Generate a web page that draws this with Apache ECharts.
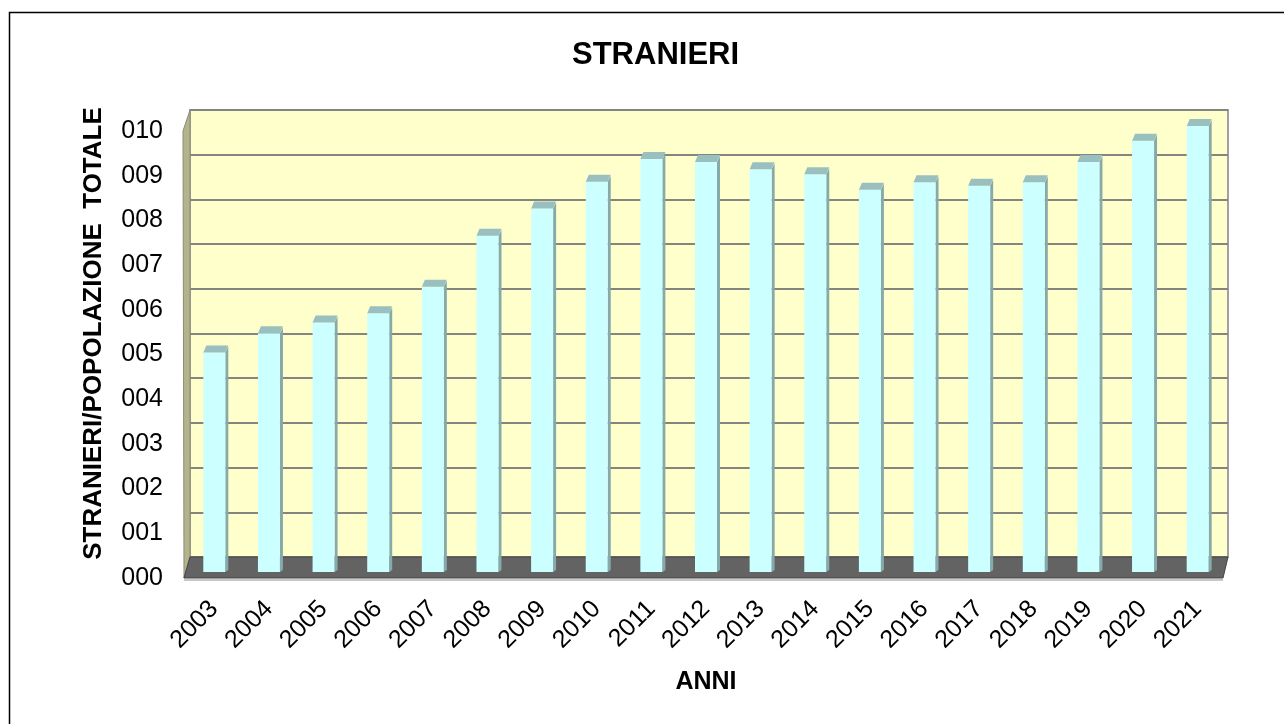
<!DOCTYPE html>
<html>
<head>
<meta charset="utf-8">
<title>STRANIERI</title>
<script src="https://cdn.jsdelivr.net/npm/echarts@6/dist/echarts.min.js"></script>
<style>
  html, body { margin: 0; padding: 0; background: #fff; }
  #chart { width: 1284px; height: 724px; }
</style>
</head>
<body>
<div id="chart"></div>
<script>
// anni e rapporto stranieri / popolazione totale
const years = ['2003', '2004', '2005', '2006', '2007', '2008', '2009', '2010', '2011', '2012',
  '2013', '2014', '2015', '2016', '2017', '2018', '2019', '2020', '2021']
const ratio = [4.91, 5.34, 5.58, 5.79, 6.38, 7.52, 8.13, 8.73, 9.24, 9.17,
  9.01, 8.90, 8.55, 8.72, 8.64, 8.72, 9.17, 9.65, 9.98]
const yTicks = ['000', '001', '002', '003', '004', '005', '006', '007', '008', '009', '010']

const FONT = '"Liberation Sans", Arial, sans-serif'

const chart = echarts.init(document.getElementById('chart'))

/**
 * barra pseudo 3D: faccia, lato e tappo
 */
const renderBar = (params, api) => {
  const top = api.coord([api.value(0), api.value(1)])
  const base = api.coord([api.value(0), 0])
  const w = 22
  const x = top[0] - w / 2
  const yt = top[1]
  const yb = base[1]
  return {
    type: 'group',
    children: [
      {
        type: 'polygon',
        shape: { points: [[x + w, yt], [x + w + 3, yt - 6], [x + w + 3, yb - 2], [x + w, yb]] },
        style: { fill: '#86AAAA' }
      },
      {
        type: 'rect',
        shape: { x: x, y: yt, width: w, height: yb - yt },
        style: { fill: '#CCFFFF' }
      },
      {
        type: 'polygon',
        shape: { points: [[x, yt], [x + w, yt], [x + w + 3, yt - 7], [x + 3, yt - 7]] },
        style: { fill: '#99BFBF' }
      }
    ]
  }
}

const option = {
  animation: false,
  backgroundColor: '#ffffff',
  title: {
    text: 'STRANIERI',
    left: 567,
    top: 35,
    textStyle: { fontFamily: FONT, fontSize: 31, fontWeight: 'bold', color: '#000' }
  },
  graphic: [
    {
      type: 'rect',
      z: 10,
      shape: { x: 9.5, y: 12.5, width: 1320, height: 800 },
      style: { fill: 'none', stroke: '#000', lineWidth: 1.5 }
    },
    {
      // parete laterale
      type: 'polygon',
      z: 1,
      shape: { points: [[190, 110], [190, 557], [184, 578], [183, 131]] },
      style: { fill: '#B4B48C', stroke: '#8C8C78', lineWidth: 1 }
    },
    {
      // pavimento
      type: 'polygon',
      z: 1,
      shape: { points: [[190, 557], [1228, 557], [1223, 578], [184, 578]] },
      style: { fill: '#636363', stroke: '#444', lineWidth: 1 }
    },
    {
      type: 'line',
      z: 1,
      shape: { x1: 184, y1: 580, x2: 1223, y2: 580 },
      style: { stroke: '#C8C8C8', lineWidth: 2 }
    }
  ],
  grid: [
    // parete di fondo
    { left: 190, top: 110, width: 1038, height: 447, show: true,
      backgroundColor: '#FFFFCC', borderColor: '#A0A0A0', borderWidth: 2 },
    // barre
    { left: 187, top: 125, width: 1038, height: 447 },
    // assi frontali
    { left: 187, top: 131, width: 1038, height: 447 }
  ],
  xAxis: [
    { gridIndex: 0, type: 'category', data: years, show: false },
    { gridIndex: 1, type: 'category', data: years, show: false },
    {
      gridIndex: 2,
      type: 'category',
      data: years,
      name: 'ANNI',
      nameLocation: 'middle',
      nameGap: 92,
      nameTextStyle: { fontFamily: FONT, fontSize: 25, fontWeight: 'bold', color: '#000' },
      axisLine: { show: false },
      axisTick: { show: false },
      axisLabel: {
        rotate: 45,
        margin: 27,
        fontFamily: FONT,
        fontSize: 25,
        color: '#000'
      }
    }
  ],
  yAxis: [
    {
      gridIndex: 0,
      type: 'value',
      min: 0,
      max: 10,
      interval: 1,
      name: 'STRANIERI/POPOLAZIONE  TOTALE',
      nameLocation: 'middle',
      nameRotate: 90,
      nameGap: 83,
      nameTextStyle: { fontFamily: FONT, fontSize: 26, fontWeight: 'bold', color: '#000' },
      axisLine: { show: false },
      axisTick: { show: false },
      axisLabel: { show: false },
      splitLine: { lineStyle: { color: '#858580', width: 2 } }
    },
    { gridIndex: 1, type: 'value', min: 0, max: 10, interval: 1, show: false, splitLine: { show: false } },
    {
      gridIndex: 2,
      type: 'value',
      min: 0,
      max: 10,
      interval: 1,
      axisLine: { show: false },
      axisTick: { show: false },
      splitLine: { show: false },
      axisLabel: {
        margin: 24,
        fontFamily: FONT,
        fontSize: 25,
        color: '#000',
        formatter: (v) => yTicks[Math.round(v)]
      }
    }
  ],
  series: [
    {
      type: 'custom',
      xAxisIndex: 1,
      yAxisIndex: 1,
      z: 5,
      renderItem: renderBar,
      encode: { x: 0, y: 1 },
      data: ratio.map((v, i) => [i, v])
    }
  ]
}

chart.setOption(option, true)
</script>
</body>
</html>
